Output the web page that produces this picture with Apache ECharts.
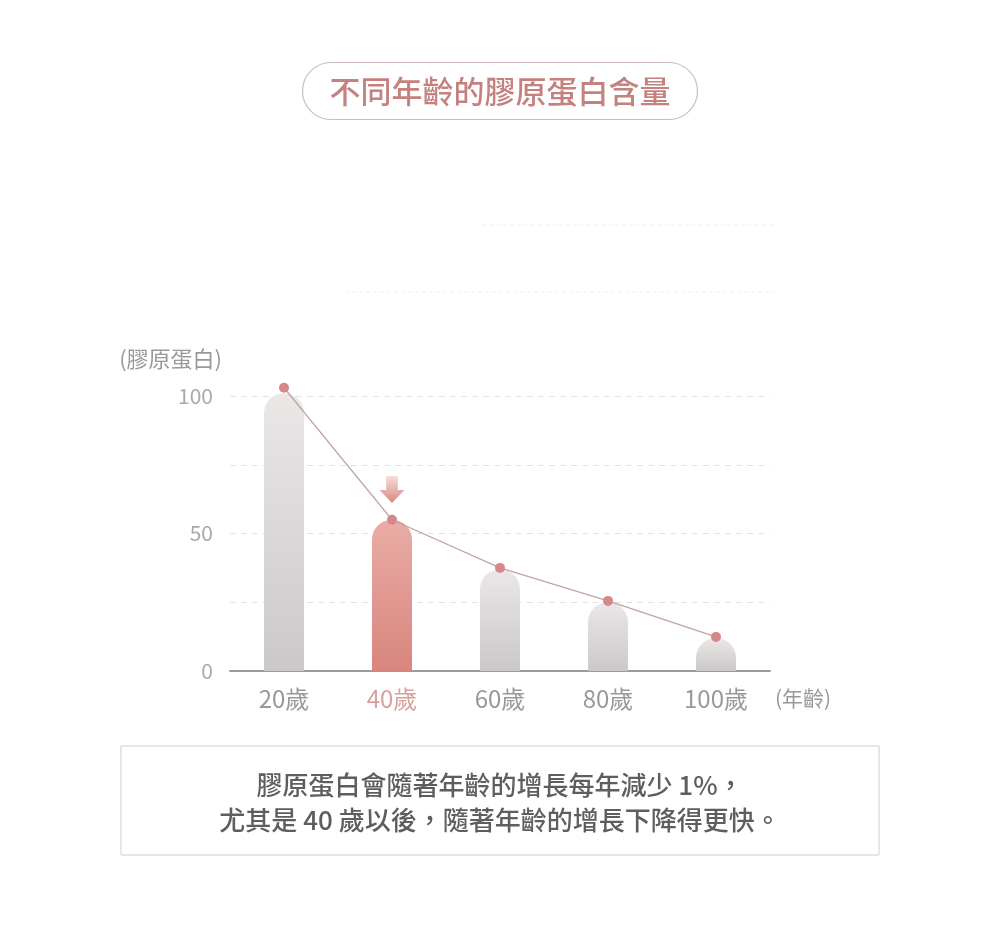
<!DOCTYPE html>
<html>
<head>
<meta charset="utf-8">
<script src="https://cdn.jsdelivr.net/npm/echarts@6/dist/echarts.min.js"></script>
<style>
html,body{margin:0;padding:0;background:#fff;}
#c{width:1000px;height:951px;}
</style>
</head>
<body>
<div id="c"></div>
<script>
const categories = ['20歲', '40歲', '60歲', '80歲', '100歲'];
const barValues = [101, 55, 37, 25, 12];
const lineValues = [103, 55, 37.5, 25.5, 12.4];
const highlightIndex = 1;
const arrowValue = 66;
const yTickLabels = [0, 50, 100];
const titleText = '不同年齡的膠原蛋白含量';
const noteLines = ['膠原蛋白會隨著年齡的增長每年減少 1%，', '尤其是 40 歲以後，隨著年齡的增長下降得更快。'];

const FONT = '"Noto Sans CJK TC", "Noto Sans", sans-serif';
const chart = echarts.init(document.getElementById('c'));

const grayGrad = new echarts.graphic.LinearGradient(0, 0, 0, 1, [
  {offset: 0, color: '#ebe7e7'}, {offset: 1, color: '#cac8c9'}
]);
const pinkGrad = new echarts.graphic.LinearGradient(0, 0, 0, 1, [
  {offset: 0, color: '#e9aca5'}, {offset: 1, color: '#d8867e'}
]);

chart.setOption({
  backgroundColor: '#fff',
  animation: false,
  title: {
    text: titleText,
    left: 'center',
    top: 62,
    padding: [11, 27, 11, 27],
    borderWidth: 1.2,
    borderColor: '#cdbdbd',
    borderRadius: 29,
    textStyle: {fontFamily: FONT, fontSize: 31, fontWeight: 500, color: '#c5817f', lineHeight: 36}
  },
  grid: {left: 230, right: 230, top: 396, bottom: 280},
  xAxis: {
    type: 'category',
    data: categories,
    name: '(年齡)',
    nameLocation: 'end',
    nameGap: 5,
    nameTextStyle: {fontFamily: FONT, fontSize: 21, color: '#999', verticalAlign: 'top', padding: [17, 0, 0, 0]},
    axisLine: {lineStyle: {color: '#9b9b9b', width: 2}},
    axisTick: {show: false},
    axisLabel: {
      fontFamily: FONT, fontSize: 24, margin: 16,
      color: function (v, i) { return i === highlightIndex ? '#d7a29d' : '#999'; }
    }
  },
  yAxis: {
    type: 'value',
    min: 0, max: 100, interval: 25,
    name: '(膠原蛋白)',
    nameLocation: 'end',
    nameGap: 26,
    nameTextStyle: {fontFamily: FONT, fontSize: 22, color: '#999', align: 'right', padding: [0, 8, 0, 0]},
    axisLine: {show: false},
    axisTick: {show: false},
    splitLine: {lineStyle: {type: [6, 5], color: '#e3e3e3', width: 1}},
    axisLabel: {
      fontFamily: FONT, fontSize: 21, color: '#aaa', margin: 17,
      formatter: function (v) { return yTickLabels.indexOf(v) >= 0 ? String(v) : ''; }
    }
  },
  series: [
    {
      type: 'bar',
      barWidth: 40,
      clip: false,
      data: barValues.map(function (v, i) {
        return {value: v, itemStyle: {color: i === highlightIndex ? pinkGrad : grayGrad}};
      }),
      itemStyle: {borderRadius: [20, 20, 0, 0]},
      z: 2,
      markPoint: {
        symbol: 'path://M-6,-14 L6,-14 L6,0 L13,0 L0,13 L-13,0 L-6,0 Z',
        symbolSize: [26, 27],
        symbolKeepAspect: true,
        label: {show: false},
        itemStyle: {
          color: new echarts.graphic.LinearGradient(0, 0, 0, 1, [
            {offset: 0, color: '#f6dcd9'}, {offset: 1, color: '#d9877f'}
          ])
        },
        data: [{coord: [highlightIndex, arrowValue]}]
      }
    },
    {
      type: 'line',
      data: lineValues,
      clip: false,
      symbol: 'circle',
      symbolSize: 10,
      lineStyle: {color: '#bfa4a1', width: 1.2},
      itemStyle: {color: '#d48888'},
      z: 3
    }
  ],
  graphic: [
    {type: 'line', shape: {x1: 482, y1: 225, x2: 775, y2: 225}, style: {stroke: '#f0f0f0', lineWidth: 1, lineDash: [4, 3]}},
    {type: 'line', shape: {x1: 345, y1: 292, x2: 775, y2: 292}, style: {stroke: '#f0f0f0', lineWidth: 1, lineDash: [4, 3]}},
    {type: 'rect', shape: {x: 121, y: 746, width: 758, height: 109}, style: {fill: '#fff', stroke: '#cfcfcf', lineWidth: 1}},
    {type: 'text', x: 500, y: 785, style: {text: noteLines[0], fontFamily: FONT, fontSize: 26, fontWeight: 500, fill: '#5e5e5e', align: 'center', verticalAlign: 'middle'}},
    {type: 'text', x: 500, y: 820, style: {text: noteLines[1], fontFamily: FONT, fontSize: 26, fontWeight: 500, fill: '#5e5e5e', align: 'center', verticalAlign: 'middle'}}
  ]
});
</script>
</body>
</html>
